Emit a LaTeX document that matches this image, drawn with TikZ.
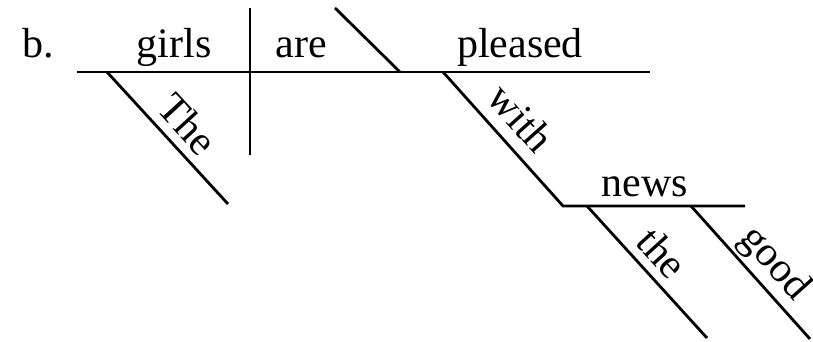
\documentclass[tikz,border=0pt]{standalone}
\usepackage{fontspec}
\setmainfont{Liberation Serif}
\begin{document}
\begin{tikzpicture}[x=1pt,y=-1pt,
  rule/.style={line width=2.8pt},
  word/.style={font=\fontsize{42}{50}\selectfont, inner sep=0pt, anchor=base},
  slword/.style={word, sloped}]
\useasboundingbox (0,0) rectangle (813,342);
% coordinates
\coordinate (mL) at (77,72);
\coordinate (mR) at (650,72);
\coordinate (vT) at (250,8);
\coordinate (vB) at (250,155);
\coordinate (sT) at (335,8);
\coordinate (sB) at (400,72);
\coordinate (theA) at (107,72);
\coordinate (theB) at (228,204);
\coordinate (withA) at (443,72);
\coordinate (withB) at (563,206);
\coordinate (nR) at (745,206);
\coordinate (tA) at (587,206);
\coordinate (tB) at (707,338);
\coordinate (gA) at (691,206);
\coordinate (gB) at (810,339);
% lines
\draw[rule] (mL) -- (mR);
\draw[rule] (vT) -- (vB);
\draw[rule] (sT) -- (sB);
\draw[rule] (theA) -- (theB);
\draw[rule,line join=miter] (withA) -- (withB) -- (nR);
\draw[rule] (tA) -- (tB);
\draw[rule] (gA) -- (gB);
% words
\node[word] (b) at (38,58) {b.};
\node[word] (girls) at (174,58) {girls};
\node[word] (are) at (301,58) {are};
\node[word] (pleased) at (520,58) {pleased};
\node[word] (news) at (645,196) {news};
\path (theA) -- node[slword, pos=0.52, yshift=10pt] (The) {The} (theB);
\path (withA) -- node[slword, pos=0.48, yshift=13pt] (with) {with} (withB);
\path (tA) -- node[slword, pos=0.48, yshift=10pt] (the) {the} (tB);
\path (gA) -- node[slword, pos=0.55, yshift=13pt] (good) {good} (gB);
\end{tikzpicture}
\end{document}
